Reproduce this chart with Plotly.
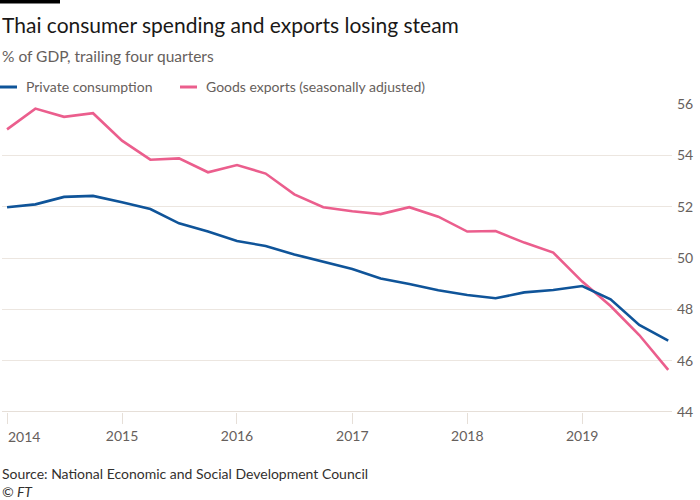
import plotly.graph_objects as go

quarters = ["2014-01-01", "2014-04-01", "2014-07-01", "2014-10-01",
            "2015-01-01", "2015-04-01", "2015-07-01", "2015-10-01",
            "2016-01-01", "2016-04-01", "2016-07-01", "2016-10-01",
            "2017-01-01", "2017-04-01", "2017-07-01", "2017-10-01",
            "2018-01-01", "2018-04-01", "2018-07-01", "2018-10-01",
            "2019-01-01", "2019-04-01", "2019-07-01", "2019-10-01"]

private_consumption = [51.98, 52.09, 52.38, 52.42, 52.17, 51.91, 51.35, 51.03,
                       50.66, 50.47, 50.14, 49.84, 49.57, 49.20, 48.99, 48.74,
                       48.56, 48.43, 48.66, 48.75, 48.91, 48.39, 47.39, 46.78]

goods_exports = [55.01, 55.82, 55.50, 55.64, 54.57, 53.83, 53.88, 53.34,
                 53.62, 53.29, 52.48, 51.98, 51.82, 51.71, 51.98, 51.61,
                 51.03, 51.05, 50.60, 50.21, 49.08, 48.13, 47.00, 45.64]

y_ticks = [44, 46, 48, 50, 52, 54, 56]
x_ticks = ["2014-01-01", "2015-01-01", "2016-01-01", "2017-01-01", "2018-01-01", "2019-01-01"]
x_tick_labels = ["2014", "2015", "2016", "2017", "2018", "2019"]

W, H = 700, 500
L, R, T, B = 2, 28, 104, 88
FONT = "Lato"
BLUE = "#0f5499"
PINK = "#eb5e8d"
GREY = "#66605c"


def xp(px):
    return (px - L) / (W - L - R)


def yp(py):
    return (H - B - py) / (H - T - B)


fig = go.Figure()
fig.add_trace(go.Scatter(x=quarters, y=goods_exports, mode="lines",
                         line=dict(color=PINK, width=2.6), name="Goods exports (seasonally adjusted)"))
fig.add_trace(go.Scatter(x=quarters, y=private_consumption, mode="lines",
                         line=dict(color=BLUE, width=2.6), name="Private consumption"))

# first tick label is drawn as an annotation shifted right (as in the original)
ticktext = [""] + x_tick_labels[1:]

fig.update_layout(
    width=W, height=H,
    margin=dict(l=L, r=R, t=T, b=B, autoexpand=False),
    paper_bgcolor="white", plot_bgcolor="white",
    showlegend=False,
    font=dict(family=FONT, color=GREY, size=13),
    xaxis=dict(type="date", range=["2013-12-16", "2019-10-13"],
               tickvals=x_ticks, ticktext=ticktext, automargin=False,
               ticks="outside", ticklen=11, tickcolor="#e6dfd8", tickwidth=1,
               showgrid=False, zeroline=False, showline=False,
               tickfont=dict(size=14, color=GREY, family=FONT),
               fixedrange=True),
    yaxis=dict(range=[44, 56], side="right", tickvals=y_ticks, automargin=False,
               showgrid=True, gridcolor="#ece6e0", gridwidth=1,
               zeroline=False, showline=False, ticks="", ticklabelstandoff=4,
               tickfont=dict(size=14, color=GREY, family=FONT),
               fixedrange=True),
)

shapes = [
    dict(type="rect", xref="paper", yref="paper", x0=xp(0), x1=xp(60), y0=yp(0), y1=yp(3.5),
         fillcolor="black", line=dict(width=0)),
    dict(type="line", xref="paper", yref="y", x0=xp(2), x1=xp(672), y0=44, y1=44,
         line=dict(color="#e6dfd8", width=2), layer="below"),
    dict(type="line", xref="paper", yref="paper", x0=xp(0), x1=xp(17), y0=yp(87), y1=yp(87),
         line=dict(color=BLUE, width=3)),
    dict(type="line", xref="paper", yref="paper", x0=xp(180), x1=xp(197), y0=yp(87), y1=yp(87),
         line=dict(color=PINK, width=3)),
]

annotations = [
    dict(text="Thai consumer spending and exports losing steam", x=xp(0), y=yp(25),
         font=dict(size=21, color="#1a1817", family=FONT)),
    dict(text="% of GDP, trailing four quarters", x=xp(0), y=yp(56),
         font=dict(size=15.5, color=GREY, family=FONT)),
    dict(text="Private consumption", x=xp(24), y=yp(87),
         font=dict(size=14, color=GREY, family=FONT)),
    dict(text="Goods exports (seasonally adjusted)", x=xp(204), y=yp(87),
         font=dict(size=14, color=GREY, family=FONT)),
    dict(text=x_tick_labels[0], x=xp(6), y=yp(436),
         font=dict(size=14, color=GREY, family=FONT)),
    dict(text="Source: National Economic and Social Development Council", x=xp(0), y=yp(473),
         font=dict(size=14, color="#33302e", family=FONT)),
    dict(text="<i>© FT</i>", x=xp(0), y=yp(491),
         font=dict(size=14, color="#33302e", family=FONT)),
]
for a in annotations:
    a.update(xref="paper", yref="paper", xanchor="left", yanchor="middle", showarrow=False)

fig.update_layout(shapes=shapes, annotations=annotations)
fig.write_html("out.html",
               config={"displayModeBar": False, "staticPlot": True},
               post_script="document.body.style.margin='0';document.body.style.overflow='hidden';")
